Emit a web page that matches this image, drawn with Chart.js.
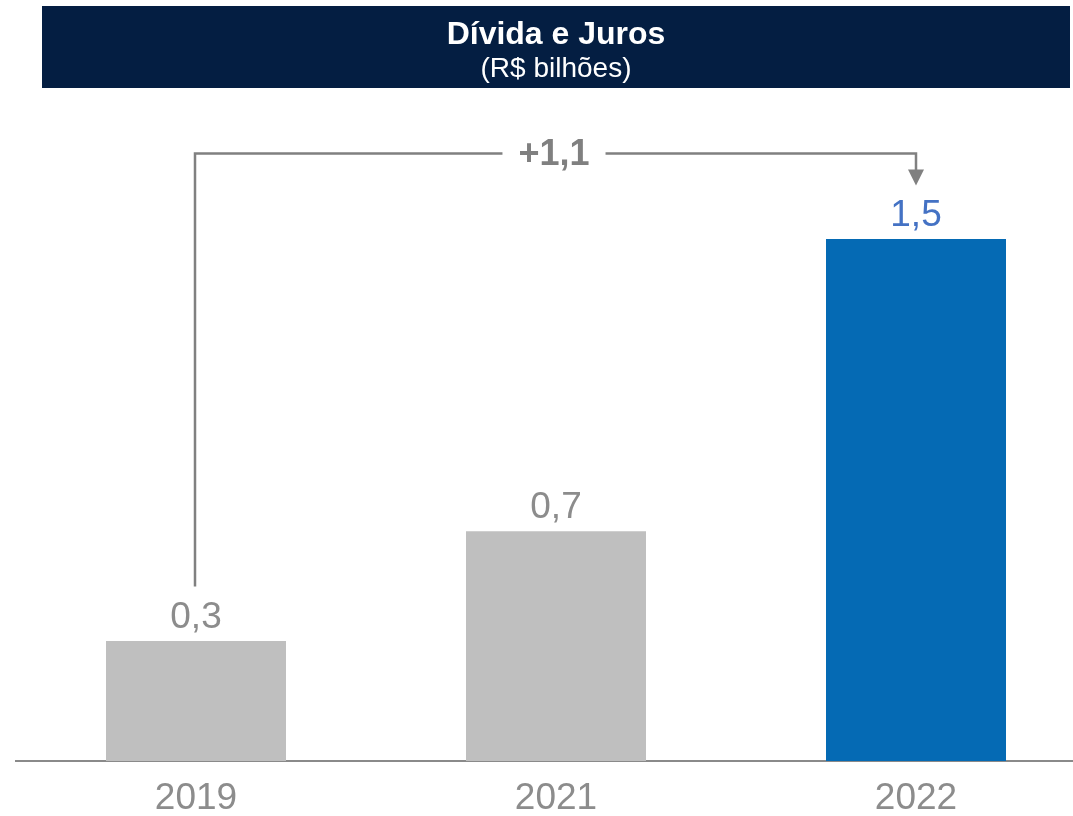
<!DOCTYPE html>
<html lang="pt-BR">
<head>
<meta charset="utf-8">
<title>Dívida e Juros</title>
<script src="https://cdn.jsdelivr.net/npm/chart.js@4.4.1/dist/chart.umd.min.js"></script>
<style>
    html, body {
        margin: 0;
        padding: 0;
        background: #ffffff;
        overflow: hidden;
        width: 1073px;
        height: 816px;
    }
    #wrap {
        position: relative;
        width: 1073px;
        height: 816px;
        overflow: hidden;
    }
    #grafico {
        position: absolute;
        left: 0;
        top: 0;
    }
</style>
</head>
<body>
<div id="wrap">
    <canvas id="grafico" width="1100" height="837"></canvas>
</div>
<script>
// Dados
const anos = ['2019', '2021', '2022'];
const valores = [0.345, 0.66, 1.5];
const coresBarras = ['#BFBFBF', '#BFBFBF', '#056AB4'];
const coresRotulos = ['#8C8C8C', '#8C8C8C', '#4472C4'];
const variacao = 1.1;
const titulo = 'Dívida e Juros';
const subtitulo = '(R$ bilhões)';

const FONTE = '"Liberation Sans", Arial, Helvetica, sans-serif';
const CINZA = '#808080';

function formatValor(v) {
    return v.toFixed(1).replace('.', ',');
}

// Faixa do título
const faixaTitulo = {
    id: 'faixaTitulo',
    beforeDraw(chart) {
        const ctx = chart.ctx;
        ctx.save();
        ctx.fillStyle = '#041E42';
        ctx.fillRect(42, 6, 1028, 82);
        ctx.fillStyle = '#ffffff';
        ctx.textAlign = 'center';
        ctx.textBaseline = 'middle';
        ctx.font = 'bold 32px ' + FONTE;
        ctx.fillText(titulo, 556, 35);
        ctx.font = '28px ' + FONTE;
        ctx.fillText(subtitulo, 556, 69);
        ctx.restore();
    }
};

// Rótulos de valor e seta de variação
const rotulos = {
    id: 'rotulos',
    afterDatasetsDraw(chart) {
        const ctx = chart.ctx;
        const barras = chart.getDatasetMeta(0).data;
        const tam = 37;
        ctx.save();
        ctx.font = tam + 'px ' + FONTE;
        ctx.textAlign = 'center';
        ctx.textBaseline = 'alphabetic';
        barras.forEach((bar, i) => {
            ctx.fillStyle = coresRotulos[i];
            ctx.fillText(formatValor(valores[i]), bar.x, bar.y - 13);
        });

        // Seta
        const ini = barras[0];
        const fim = barras[barras.length - 1];
        const alturaTexto = tam * 0.716;
        const yIni = ini.y - 13 - alturaTexto - 15;
        const yPonta = fim.y - 13 - alturaTexto - 14;
        const yLinha = yPonta - 32;
        const xMeio = (ini.x + fim.x) / 2 - 2;

        ctx.font = 'bold 36px ' + FONTE;
        const txt = '+' + formatValor(variacao);
        const larg = ctx.measureText(txt).width;

        ctx.strokeStyle = CINZA;
        ctx.lineWidth = 2.5;
        ctx.beginPath();
        ctx.moveTo(ini.x - 1, yIni);
        ctx.lineTo(ini.x - 1, yLinha);
        ctx.lineTo(xMeio - larg / 2 - 16, yLinha);
        ctx.moveTo(xMeio + larg / 2 + 16, yLinha);
        ctx.lineTo(fim.x, yLinha);
        ctx.lineTo(fim.x, yPonta - 15);
        ctx.stroke();

        ctx.fillStyle = CINZA;
        ctx.beginPath();
        ctx.moveTo(fim.x - 8, yPonta - 16);
        ctx.lineTo(fim.x + 8, yPonta - 16);
        ctx.lineTo(fim.x, yPonta);
        ctx.closePath();
        ctx.fill();

        ctx.textBaseline = 'middle';
        ctx.fillText(txt, xMeio, yLinha + 2);
        ctx.restore();
    }
};

new Chart(document.getElementById('grafico'), {
    type: 'bar',
    data: {
        labels: anos,
        datasets: [{
            data: valores,
            backgroundColor: coresBarras,
            borderWidth: 0,
            barPercentage: 0.5,
            categoryPercentage: 1.0
        }]
    },
    options: {
        responsive: false,
        animation: false,
        devicePixelRatio: 1,
        layout: {
            padding: { top: 65, left: 16, right: 4, bottom: 1 }
        },
        plugins: {
            legend: { display: false },
            tooltip: { enabled: false }
        },
        scales: {
            x: {
                grid: { display: false, drawTicks: false, tickLength: 0 },
                border: { display: true, color: '#8A8A8A', width: 2 },
                ticks: {
                    color: '#8C8C8C',
                    padding: 19,
                    font: { family: FONTE, size: 37, lineHeight: 1 }
                }
            },
            y: {
                display: false,
                min: 0,
                max: 2
            }
        }
    },
    plugins: [faixaTitulo, rotulos]
});
</script>
</body>
</html>
